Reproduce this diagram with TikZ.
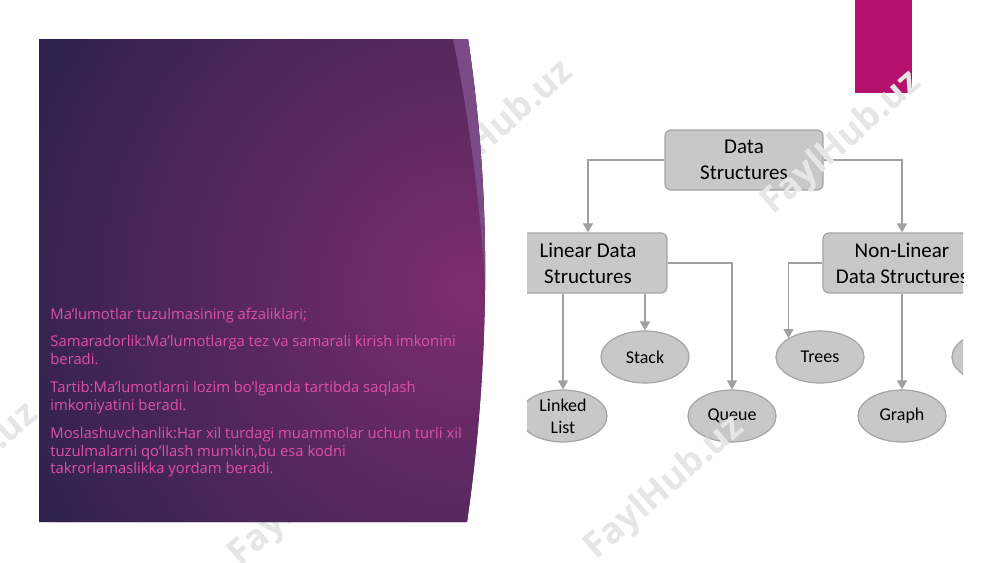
\documentclass[tikz,border=0pt]{standalone}
\usepackage{fontspec}
\setmainfont{Open Sans}
\newfontfamily\diagfont{Carlito}
\usepackage{xcolor}
\definecolor{PanelDark}{HTML}{30224E}
\definecolor{PanelGlow}{HTML}{7C2D6E}
\definecolor{PanelBand}{HTML}{7A4B86}
\definecolor{TextPink}{HTML}{E04FAE}
\definecolor{AccentMagenta}{HTML}{B4126E}
\definecolor{BoxGray}{HTML}{C8C8C8}
\definecolor{BoxEdge}{HTML}{A4A4A4}
\definecolor{LineGray}{HTML}{A0A0A0}
\definecolor{WaterGray}{HTML}{E6E6E6}
\usetikzlibrary{
    arrows.meta,
    positioning,
    shapes.geometric
}

\begin{document}
\begin{tikzpicture}[
    x=0.5pt,
    y=-0.5pt,
%
    dsbox/.style={
        draw=BoxEdge,
        line width=0.6pt,
        fill=BoxGray,
        rounded corners=3pt,
        minimum width=79pt,
        minimum height=30pt,
        inner sep=0pt,
        align=center,
        font=\diagfont\fontsize{10.5}{13}\selectfont
    },
%
    leaf/.style={
        ellipse,
        draw=BoxEdge,
        line width=0.6pt,
        fill=BoxGray,
        minimum width=44pt,
        minimum height=26pt,
        inner sep=0pt,
        align=center,
        font=\diagfont\fontsize{9}{11}\selectfont
    },
%
    arrow/.style={
        -{Triangle[length=4.5pt,width=5pt]},
        line width=0.7pt,
        color=LineGray
    },
%
    body/.style={
        anchor=north west,
        align=left,
        inner sep=0pt,
        text=TextPink,
        font=\fontsize{7.4}{8.7}\selectfont,
        execute at begin node=\strut
    },
%
    wmark/.style={
        rotate=41,
        text=WaterGray,
        font=\bfseries\fontsize{18}{18}\selectfont
    }
]
\useasboundingbox[fill=white] (0,0) rectangle (1000,562);
\fill[AccentMagenta] (855,0) rectangle (912,93);
%
% The data structures chart, cut off on both sides.
%
\begin{scope}
\clip (527,110) rectangle (963,450);
\node[dsbox] (root) at (744,160) {Data\\Structures};
\node[dsbox] (linear) at (588,263) {Linear Data\\Structures};
\node[dsbox] (nonlinear) at (902,263) {Non-Linear\\Data Structures};
\node[leaf] (linked) at (563,416) {Linked\\List};
\node[leaf] (stack) at (645,357) {Stack};
\node[leaf] (queue) at (732,416) {Queue};
\node[leaf] (trees) at (820,357) {Trees};
\node[leaf] (graph) at (902,416) {Graph};
\node[leaf] (more) at (996,357) {};
\draw[arrow] (root.west) -| (linear.north);
\draw[arrow] (root.east) -| (nonlinear.north);
\draw[arrow] (linked.north |- linear.south) -- (linked.north);
\draw[arrow] (stack.north |- linear.south) -- (stack.north);
\draw[arrow] (linear.east) -| (queue.north);
\draw[arrow] (nonlinear.west) -| (trees.north west);
\draw[arrow] (graph.north |- nonlinear.south) -- (graph.north);
\end{scope}
%
% Watermarks, partly hidden by the panel.
%
\node[wmark] (wm1) at (494,133) {FaylHub.uz};
\node[wmark] (wm2) at (842,143) {FaylHub.uz};
\node[wmark] (wm3) at (665,488) {FaylHub.uz};
\node[wmark] (wm4) at (309,495) {FaylHub.uz};
\node[wmark] (wm5) at (-41,475) {FaylHub.uz};
%
% Purple panel with the bent right edge.
%
\begin{scope}
\clip (39,39) -- (468,39)
    .. controls (480,120) and (486,200) .. (485,290)
    .. controls (484,380) and (476,460) .. (467,522)
    -- (39,522) -- cycle;
\fill[PanelDark] (0,0) rectangle (500,562);
\shade[inner color=PanelGlow, outer color=PanelDark] (470,290) circle [radius=480];
\fill[PanelBand] (453,39) .. controls (470,120) and (482,220) .. (486,300)
    -- (500,300) -- (500,39) -- cycle;
\end{scope}
%
\node[body] (title) at (50,307) {Ma’lumotlar tuzulmasining afzaliklari;};
\node[body] (speed) at (50,335) {Samaradorlik:Ma’lumotlarga tez va samarali kirish imkonini\\beradi.};
\node[body] (order) at (50,381) {Tartib:Ma’lumotlarni lozim bo’lganda tartibda saqlash\\imkoniyatini beradi.};
\node[body] (flex) at (50,427) {Moslashuvchanlik:Har xil turdagi muammolar uchun turli xil\\tuzulmalarni qo’llash mumkin,bu esa kodni\\takrorlamaslikka yordam beradi.};
%
\end{tikzpicture}
\end{document}
